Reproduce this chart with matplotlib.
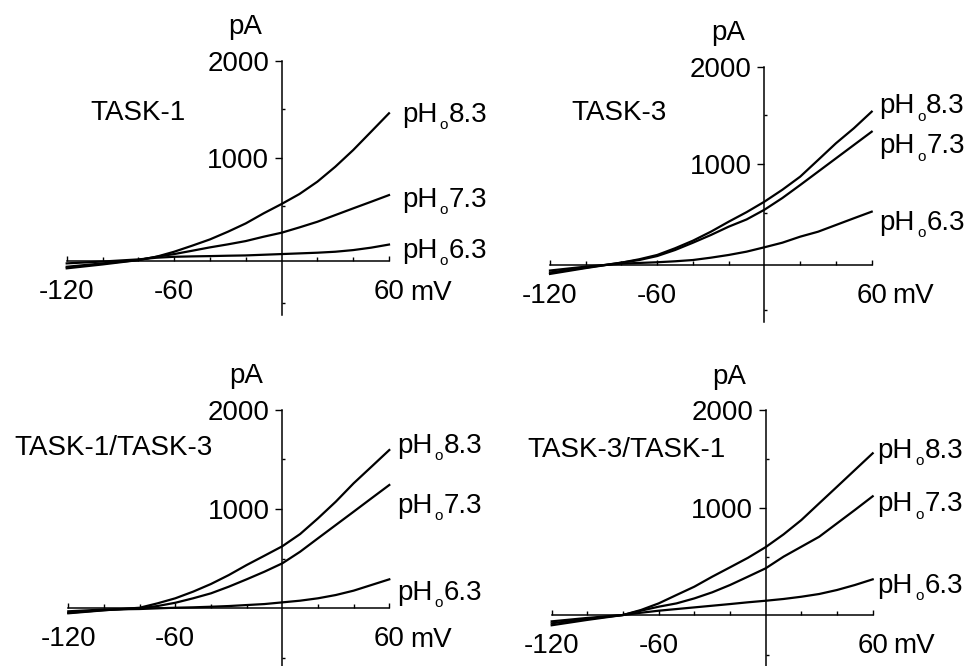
import matplotlib
matplotlib.use("Agg")
import matplotlib.pyplot as plt

plt.rcParams["font.family"] = ["Liberation Sans", "DejaVu Sans"]

# ── data ───────────────────────────────────────────────────
mv = [-120, -100, -80, -70, -60, -50, -40, -30, -20, -10, 0, 10, 20, 30, 40, 50, 60]

task1_83 = [-140, -100, -55, -21, 31, 93, 158, 237, 323, 427, 523, 626, 753, 907, 1079, 1268, 1458]
task1_73 = [-124, -89, -55, -21, 7, 41, 76, 107, 141, 186, 227, 282, 340, 409, 478, 546, 615]
task1_63 = [-89, -70, -48, -31, -21, -17, -14, -10, -7, 0, 7, 14, 21, 31, 48, 73, 105]

task3_83 = [-130, -70, -14, 21, 65, 134, 212, 304, 407, 505, 613, 735, 870, 1041, 1213, 1367, 1538]
task3_73 = [-115, -65, -14, 13, 54, 116, 191, 270, 356, 430, 530, 650, 784, 921, 1058, 1195, 1332]
task3_63 = [-95, -55, -24, -17, -10, 0, 13, 37, 65, 99, 144, 191, 253, 304, 373, 442, 510]

t1t3_83 = [-50, -20, 6, 50, 101, 168, 245, 335, 436, 530, 625, 748, 906, 1074, 1259, 1426, 1594]
t1t3_73 = [-45, -18, 0, 23, 56, 101, 151, 218, 292, 369, 453, 570, 705, 839, 973, 1108, 1242]
t1t3_63 = [-30, -12, -7, 0, 6, 10, 16, 23, 33, 43, 60, 77, 101, 134, 178, 235, 292]

t3t1_83 = [-200, -145, -95, -44, 24, 110, 195, 297, 393, 490, 600, 730, 877, 1048, 1218, 1389, 1560]
t3t1_73 = [-180, -135, -95, -51, -10, 24, 75, 137, 212, 297, 383, 502, 604, 706, 843, 980, 1120]
t3t1_63 = [-160, -125, -95, -72, -51, -34, -17, 0, 17, 35, 51, 69, 92, 120, 161, 212, 270]

titles = ["TASK-1", "TASK-3", "TASK-1/TASK-3", "TASK-3/TASK-1"]
traces = [
    [task1_83, task1_73, task1_63],
    [task3_83, task3_73, task3_63],
    [t1t3_83, t1t3_73, t1t3_63],
    [t3t1_83, t3t1_73, t3t1_63],
]
ph_values = ["8.3", "7.3", "6.3"]

# ── layout (pixel-matched) ─────────────────────────────────
W, H = 972, 666
# left px, right px, top px (2000 pA), bottom px (-620 pA)
boxes = [(66.7, 389.0, 60.7, 314.9),
         (550.0, 871.7, 66.7, 321.6),
         (68.3, 389.3, 409.7, 669.9),
         (551.7, 872.7, 410.3, 666.3)]
x_cross = [-65, -35, 0, -92]              # where the mV axis crosses the pA axis
title_pos = [(-107, 1461), (-108, 1524), (-150, 1614), (-133.5, 1597)]
label_x = [67.1, 64.1, 64.2, 62.8]
label_y = [[1471, 595, 69], [1623, 1212, 425], [1664, 1060, 188], [1614, 1068, 232]]

fig = plt.figure(figsize=(W / 100, H / 100), dpi=100)


def ph_label(ax, x, y, val):
    # pH with a small subscript "o", then the value
    kw = dict(textcoords="offset points", annotation_clip=False, va="baseline", ha="left")
    ax.annotate("pH", xy=(x, y), xytext=(0, -7.2), fontsize=20, **kw)
    ax.annotate("o", xy=(x, y), xytext=(27.3, -12.5), fontsize=11, **kw)
    ax.annotate(val, xy=(x, y), xytext=(34.0, -7.2), fontsize=20, **kw)


for i in range(4):
    l, r, t, b = boxes[i]
    ax = fig.add_axes([l / W, 1 - b / H, (r - l) / W, (b - t) / H])
    ax.set_xlim(-120, 60)
    ax.set_ylim(-620, 2000)

    for tr in traces[i]:
        ax.plot(mv, tr, color="black", lw=1.6, clip_on=False)

    for s in ["top", "right"]:
        ax.spines[s].set_visible(False)
    ax.spines["left"].set_position(("data", 0))
    ax.spines["bottom"].set_position(("data", x_cross[i]))
    ax.spines["left"].set_linewidth(1.1)
    ax.spines["bottom"].set_linewidth(1.1)
    ax.patch.set_visible(False)

    ax.set_xticks([-120, -60, 60])
    ax.set_xticklabels(["-120", "-60", "60"])
    ax.set_xticks([-100, -80, -40, -20, 20, 40], minor=True)
    ax.tick_params(axis="x", which="major", direction="in", length=3.5,
                   width=1, pad=13, labelsize=20)
    ax.tick_params(axis="x", which="minor", direction="in", length=3, width=1)

    ax.set_yticks([1000, 2000])
    ax.set_yticklabels(["1000", "2000"])
    ax.set_yticks([-500, 500, 1500], minor=True)
    ax.tick_params(axis="y", which="major", direction="out", length=5,
                   width=1, pad=4, labelsize=20)
    ax.tick_params(axis="y", which="minor", direction="in", length=2.5, width=1)

    ax.annotate("pA", xy=(0, 2000), xytext=(-26, 24), textcoords="offset points",
                ha="center", va="center", fontsize=20, annotation_clip=False)
    ax.annotate("mV", xy=(60, x_cross[i]), xytext=(15, -13.5), textcoords="offset points",
                ha="left", va="top", fontsize=20, annotation_clip=False)

    ax.text(title_pos[i][0], title_pos[i][1], titles[i], fontsize=20,
            ha="left", va="center", clip_on=False)

    for val, ly in zip(ph_values, label_y[i]):
        ph_label(ax, label_x[i], ly, val)

fig.savefig("out.png", dpi=100)
